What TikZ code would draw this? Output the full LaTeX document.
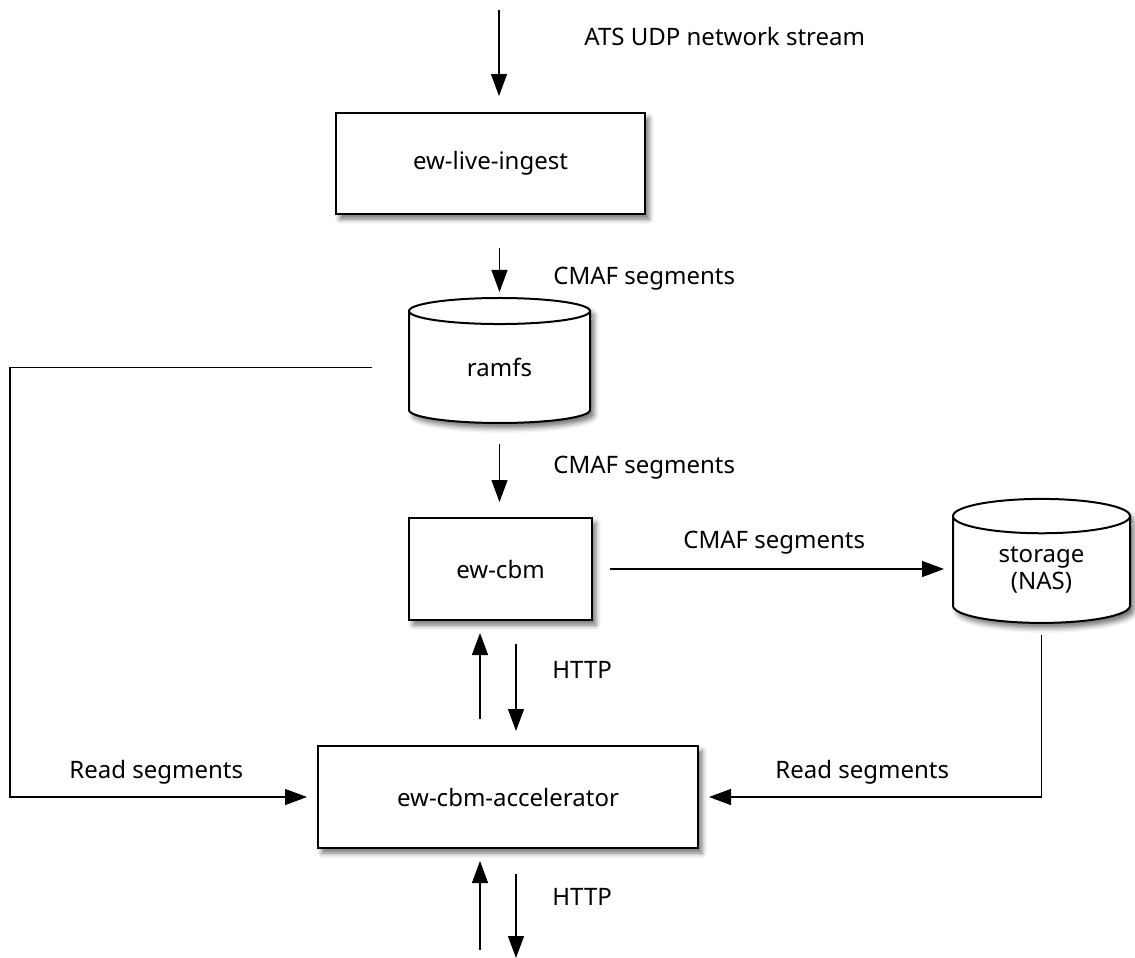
\documentclass[tikz,border=0pt]{standalone}
\usepackage{fontspec}
\setmainfont{Noto Sans}
\usetikzlibrary{arrows.meta,shapes.geometric,shadows.blur}

\tikzset{
  box/.style={draw, line width=1pt, fill=white, inner sep=0pt,
    blur shadow={shadow xshift=2pt, shadow yshift=-2.5pt, shadow blur radius=2.5pt, shadow opacity=55}},
  store/.style={box, cylinder, shape border rotate=90, aspect=0.4, align=center},
  flow/.style={line width=0.65pt, -{Triangle[length=11pt,width=8pt]}},
  lbl/.style={anchor=west, inner sep=0pt}
}

\begin{document}
\begin{tikzpicture}[x=0.5pt, y=-0.5pt, font=\fontsize{12}{13.5}\selectfont]
  \useasboundingbox (0,0) rectangle (1135,958);

  % components
  \node[box, minimum width=154.5pt, minimum height=50.5pt] (ingest) at (490.5,163.5) {ew-live-ingest};
  \node[store, minimum width=90.5pt, minimum height=62.5pt] (ramfs) at (499.5,367.5) {ramfs};
  \node[box, minimum width=91.5pt, minimum height=51pt] (cbm) at (500.5,569) {ew-cbm};
  \node[store, minimum width=88.5pt, minimum height=62pt] (storage) at (1041.5,570) {storage\\(NAS)};
  \node[box, minimum width=190pt, minimum height=51pt] (accel) at (508,797) {ew-cbm-accelerator};

  % free ends
  \coordinate (atssrc) at (499,10);
  \coordinate (lrail) at (10,0);
  \coordinate (webin) at (480,950);
  \coordinate (webout) at (516,958);

  % flows
  \draw[flow, shorten >=8pt] (atssrc) -- (atssrc |- ingest.north);
  \draw[flow, shorten <=16.5pt, shorten >=2.5pt] (ramfs.north |- ingest.south) -- (ramfs.north);
  \draw[flow, shorten <=10pt, shorten >=7.5pt] (ramfs.south) -- (ramfs.south |- cbm.north);
  \draw[flow, shorten <=8.5pt, shorten >=4pt] (cbm.east) -- (cbm.east -| storage.west);
  \draw[flow, shorten >=5pt] ([xshift=-18pt]ramfs.west) -- (ramfs.west -| lrail) |- (accel.west);
  \draw[flow, shorten <=5.5pt, shorten >=5pt] (storage.south) |- (accel.east);
  \draw[flow, shorten <=13pt, shorten >=6pt] ([xshift=-14pt]accel.north) -- ([xshift=-14pt]accel.north |- cbm.south);
  \draw[flow, shorten <=11.5pt, shorten >=7pt] ([xshift=4pt]accel.north |- cbm.south) -- ([xshift=4pt]accel.north);
  \draw[flow, shorten >=6pt] (webin) -- (webin |- accel.south);
  \draw[flow, shorten <=12.5pt] (webout |- accel.south) -- (webout);

  % labels
  \node[lbl] (lats) at (584,37) {ATS UDP network stream};
  \node[lbl] (lcmafa) at (553,279) {CMAF segments};
  \node[lbl] (lcmafb) at (553,468) {CMAF segments};
  \node[lbl] (lcmafc) at (683,543) {CMAF segments};
  \node[lbl] (lhttpa) at (552,670) {HTTP};
  \node[lbl] (lreadl) at (69,772) {Read segments};
  \node[lbl] (lreadr) at (775,772) {Read segments};
  \node[lbl] (lhttpb) at (552,897) {HTTP};
\end{tikzpicture}
\end{document}
